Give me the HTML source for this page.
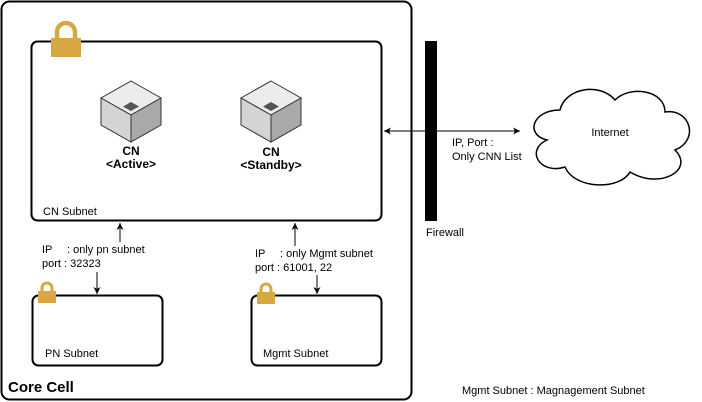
<!DOCTYPE html>
<html><head><style>body{margin:0;background:#fff}svg{display:block}text{font-family:"Liberation Sans",sans-serif;fill:#000}</style></head><body>
<svg width="702" height="402" viewBox="0 0 702 402" xmlns="http://www.w3.org/2000/svg">
<defs>
<marker id="a" markerWidth="8" markerHeight="8" refX="7" refY="4" orient="auto" markerUnits="userSpaceOnUse"><path d="M0,0.5 L7,4 L0,7.5 L2,4 Z" fill="#000"/></marker>
<g id="cube"><path d="M0,-17 L30,0 L0,17 L-30,0 Z" fill="#ececec" stroke="#333"/><path d="M-30,0 L0,17 L0,44 L-30,27 Z" fill="#d4d4d4" stroke="#333"/><path d="M30,0 L0,17 L0,44 L30,27 Z" fill="#a9a9a9" stroke="#333"/><path d="M0,4 L8,8.5 L0,13 L-8,8.5 Z" fill="#555"/></g>
</defs>
<rect x="1.5" y="1.5" width="410" height="398" rx="8" fill="none" stroke="#000" stroke-width="2"/>
<rect x="31.5" y="41.5" width="350" height="179" rx="6" fill="none" stroke="#000" stroke-width="2"/>
<g transform="translate(66,38)"><path d="M-9,0 v-6 a9,9 0 0 1 18,0 v6" fill="none" stroke="#d9a741" stroke-width="4.5"/><rect x="-15" y="0" width="30" height="19" fill="#d9a741"/></g>
<g transform="translate(131,98)"><use href="#cube"/></g>
<g transform="translate(271,98)"><use href="#cube"/></g>
<text x="131" y="155" font-size="12" font-weight="bold" text-anchor="middle">CN</text>
<text x="131" y="168" font-size="12" font-weight="bold" text-anchor="middle">&lt;Active&gt;</text>
<text x="271" y="156" font-size="12" font-weight="bold" text-anchor="middle">CN</text>
<text x="271" y="169" font-size="12" font-weight="bold" text-anchor="middle">&lt;Standby&gt;</text>
<text x="43" y="215" font-size="11">CN Subnet</text>
<rect x="32.5" y="295.5" width="130" height="70" rx="6" fill="none" stroke="#000" stroke-width="2"/>
<rect x="251.5" y="295.5" width="130" height="70" rx="6" fill="none" stroke="#000" stroke-width="2"/>
<g transform="translate(47,291)"><path d="M-5,0 v-3 a5,5 0 0 1 10,0 v3" fill="none" stroke="#d9a741" stroke-width="3"/><rect x="-9" y="0" width="18" height="12" fill="#d9a741"/></g>
<g transform="translate(266,292)"><path d="M-5,0 v-3 a5,5 0 0 1 10,0 v3" fill="none" stroke="#d9a741" stroke-width="3"/><rect x="-9" y="0" width="18" height="12" fill="#d9a741"/></g>
<text x="45" y="357" font-size="11">PN Subnet</text>
<text x="263" y="357" font-size="11">Mgmt Subnet</text>
<line x1="120" y1="242" x2="120" y2="223" stroke="#000" marker-end="url(#a)"/>
<line x1="97" y1="272" x2="97" y2="294" stroke="#000" marker-end="url(#a)"/>
<line x1="295" y1="246" x2="295" y2="223" stroke="#000" marker-end="url(#a)"/>
<line x1="317" y1="275" x2="317" y2="294" stroke="#000" marker-end="url(#a)"/>
<text x="42" y="253" font-size="11">IP</text><text x="67" y="253" font-size="11">: only pn subnet</text>
<text x="42" y="267" font-size="11">port : 32323</text>
<text x="255" y="257" font-size="11">IP</text><text x="280" y="257" font-size="11">: only Mgmt subnet</text>
<text x="255" y="271" font-size="11">port : 61001, 22</text>
<text x="8" y="392" font-size="15" font-weight="bold">Core Cell</text>
<rect x="425" y="41" width="12" height="180" fill="#000"/>
<text x="426" y="236" font-size="11">Firewall</text>
<line x1="450" y1="131" x2="384" y2="131" stroke="#000" marker-end="url(#a)"/>
<line x1="450" y1="131" x2="520" y2="131" stroke="#000" marker-end="url(#a)"/>
<text x="452" y="146" font-size="11">IP, Port :</text>
<text x="452" y="160" font-size="11">Only CNN List</text>
<path d="M560,110 C532,110 525,135 547,140 C525,150 540,175 565,167 C575,190 620,190 630,172 C660,190 695,170 675,150 C700,140 690,108 665,112 C665,90 630,85 615,100 C600,82 565,88 560,110 Z" fill="#fff" stroke="#000" stroke-width="1.5"/>
<text x="610" y="136" font-size="11" text-anchor="middle">Internet</text>
<text x="462" y="394" font-size="11">Mgmt Subnet : Magnagement Subnet</text>
</svg>
</body></html>
